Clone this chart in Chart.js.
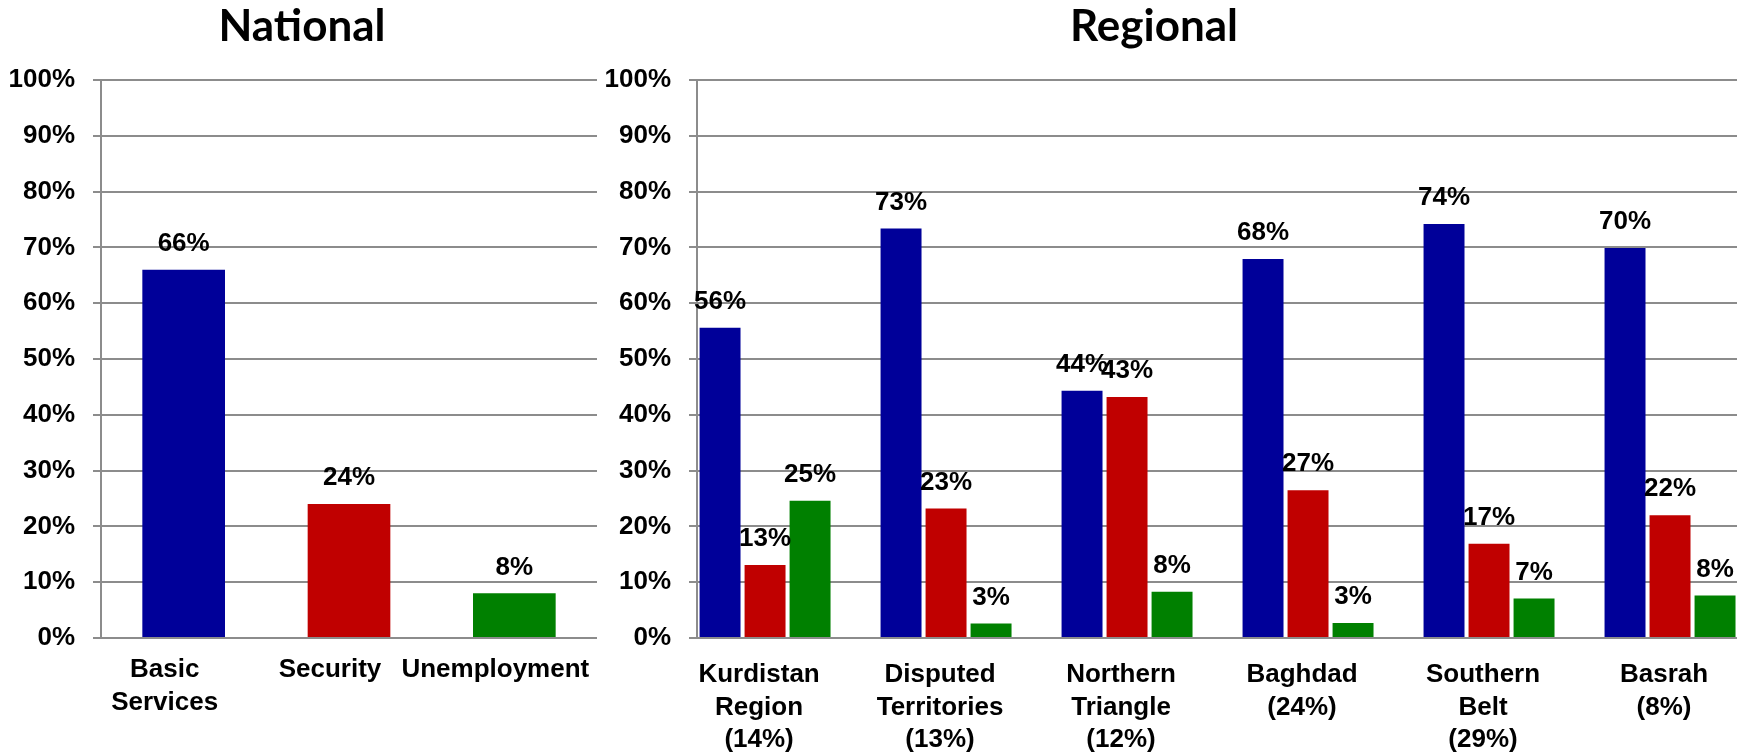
<!DOCTYPE html>
<html>
<head>
<meta charset="utf-8">
<script src="https://cdn.jsdelivr.net/npm/chart.js@4.4.0/dist/chart.umd.min.js"></script>
<style>
  body { margin: 0; background: #fff; width: 1744px; height: 752px; overflow: hidden; position: relative; }
  canvas { position: absolute; top: 0; }
  #national { left: 0; }
  #regional { left: 571px; }
</style>
</head>
<body>
<canvas id="national" width="637" height="752"></canvas>
<canvas id="regional" width="1173" height="752"></canvas>
<script>
// national
const nationalLabels = [['Basic', 'Services'], 'Security', 'Unemployment'];
const nationalValues = [66, 24, 8];

// regional
const regionLabels = [
  ['Kurdistan', 'Region', '(14%)'],
  ['Disputed', 'Territories', '(13%)'],
  ['Northern', 'Triangle', '(12%)'],
  ['Baghdad', '(24%)'],
  ['Southern', 'Belt', '(29%)'],
  ['Basrah', '(8%)']
];
const basicServices = [55.6, 73.4, 44.3, 67.9, 74.2, 69.9];
const security = [13.1, 23.2, 43.2, 26.5, 16.9, 22.0];
const unemployment = [24.6, 2.6, 8.3, 2.7, 7.1, 7.6];

const blue = '#000099';
const red = '#C00000';
const green = '#008000';
const gridColor = '#8c8c8c';
const textFont = { family: "'Liberation Sans', Arial, sans-serif", weight: 'bold', size: 26, lineHeight: 1.25 };
const titleFont = { family: "Lato, 'Open Sans', sans-serif", weight: 'bold', size: 44, lineHeight: '50px' };

// draws the % value above each bar
const valueLabels = {
  id: 'valueLabels',
  afterDatasetsDraw(chart) {
    const c = chart.ctx;
    c.save();
    c.font = "bold 26px 'Liberation Sans', Arial, sans-serif";
    c.fillStyle = '#000';
    c.textAlign = 'center';
    c.textBaseline = 'middle';
    chart.data.datasets.forEach((ds, i) => {
      chart.getDatasetMeta(i).data.forEach((bar, j) => {
        const d = ds.data[j];
        const v = typeof d === 'object' ? d.y : d;
        c.fillText(Math.round(v) + '%', bar.x, bar.y - 26);
      });
    });
    c.restore();
  }
};

function yAxis(width) {
  return {
    min: 0,
    max: 100,
    ticks: { stepSize: 10, callback: v => v + '%', color: '#000', font: textFont, padding: 18 },
    grid: { color: gridColor, lineWidth: 2, tickLength: 8, tickColor: gridColor },
    border: { color: gridColor, width: 2 },
    afterFit: s => { s.width = width; }
  };
}

function title(text) {
  return { display: true, text: text, color: '#000', font: titleFont, padding: { top: 2, bottom: 28 } };
}

new Chart(document.getElementById('national'), {
  type: 'bar',
  data: {
    labels: nationalLabels,
    datasets: [{
      label: 'National',
      data: nationalValues,
      backgroundColor: [blue, red, green],
      borderWidth: 0,
      categoryPercentage: 1,
      barPercentage: 0.5
    }]
  },
  options: {
    responsive: false,
    animation: false,
    devicePixelRatio: 1,
    layout: { padding: { left: 7, right: 40 } },
    plugins: { legend: { display: false }, tooltip: { enabled: false }, title: title('National') },
    scales: {
      x: {
        grid: { display: false, drawTicks: false },
        border: { display: false },
        ticks: { color: '#000', font: textFont, padding: 16, labelOffset: -19, maxRotation: 0, autoSkip: false },
        afterFit: s => { s.height = 114; }
      },
      y: yAxis(94)
    }
  },
  plugins: [valueLabels]
});

new Chart(document.getElementById('regional'), {
  type: 'bar',
  data: {
    datasets: [
      { label: 'Basic Services', data: basicServices.map((v, i) => ({ x: i, y: v })), backgroundColor: blue },
      { label: 'Security', data: security.map((v, i) => ({ x: i, y: v })), backgroundColor: red },
      { label: 'Unemployment', data: unemployment.map((v, i) => ({ x: i, y: v })), backgroundColor: green }
    ]
  },
  options: {
    responsive: false,
    animation: false,
    devicePixelRatio: 1,
    layout: { padding: { left: 0, right: 7 } },
    datasets: { bar: { categoryPercentage: 0.746, barPercentage: 0.91, borderWidth: 0 } },
    plugins: { legend: { display: false }, tooltip: { enabled: false }, title: title('Regional') },
    scales: {
      x: {
        type: 'linear',
        min: -0.376,
        max: 5.37,
        offset: false,
        afterBuildTicks: s => { s.ticks = regionLabels.map((l, i) => ({ value: i })); },
        grid: { display: false, drawTicks: false, offset: false },
        border: { display: false },
        ticks: { callback: v => regionLabels[v], color: '#000', font: textFont, padding: 21, labelOffset: -6, maxRotation: 0, autoSkip: false },
        afterFit: s => { s.height = 114; }
      },
      y: yAxis(126)
    }
  },
  plugins: [valueLabels]
});
</script>
</body>
</html>
